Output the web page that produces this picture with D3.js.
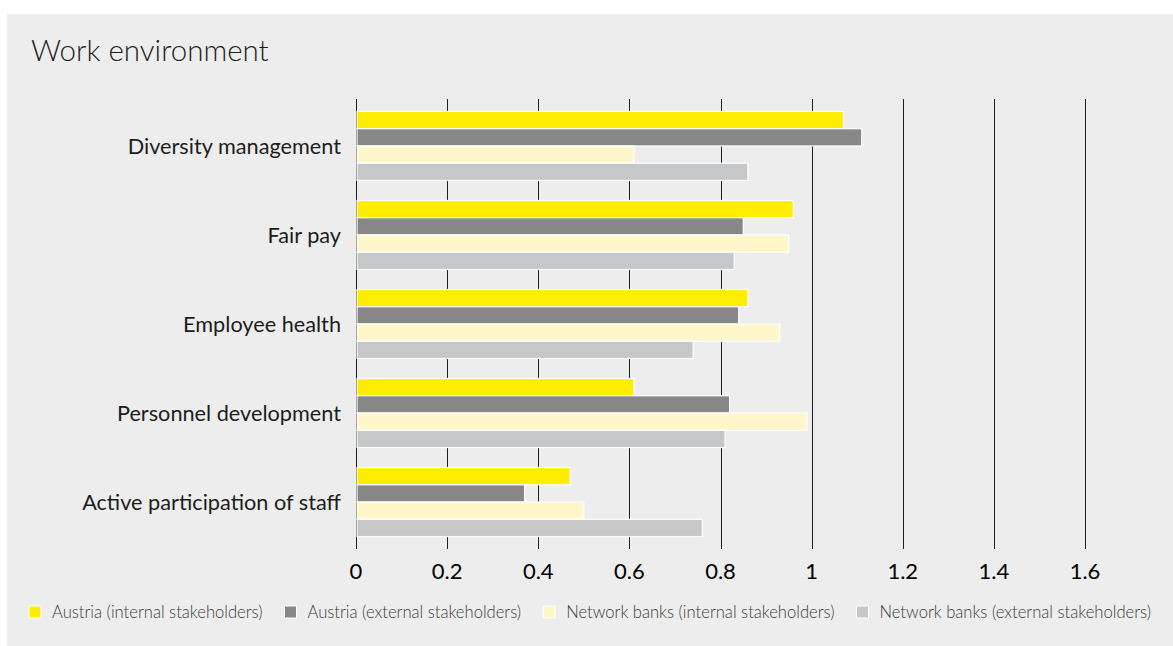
<!DOCTYPE html>
<html>
<head>
<meta charset="utf-8">
<script src="https://cdn.jsdelivr.net/npm/d3@7"></script>
<style>
  html, body { margin: 0; padding: 0; background: #ffffff; }
  svg { display: block; }
</style>
</head>
<body>
<svg id="chart" width="1173" height="646"></svg>
<script>
// Work environment – ratings per topic, four stakeholder groups
const categories = [
  "Diversity management",
  "Fair pay",
  "Employee health",
  "Personnel development",
  "Active participation of staff"
];
const seriesNames = [
  "Austria (internal stakeholders)",
  "Austria (external stakeholders)",
  "Network banks (internal stakeholders)",
  "Network banks (external stakeholders)"
];
const austriaInternal   = [1.07, 0.96, 0.86, 0.61, 0.47];
const austriaExternal   = [1.11, 0.85, 0.84, 0.82, 0.37];
const networkInternal   = [0.61, 0.95, 0.93, 0.99, 0.50];
const networkExternal   = [0.86, 0.83, 0.74, 0.81, 0.76];
const tickValues = [0, 0.2, 0.4, 0.6, 0.8, 1, 1.2, 1.4, 1.6];
const tickLabels = ["0", "0.2", "0.4", "0.6", "0.8", "1", "1.2", "1.4", "1.6"];
const seriesColors = ["#ffed00", "#878787", "#fff7c9", "#c6c7c8"];

const seriesValues = [austriaInternal, austriaExternal, networkInternal, networkExternal];

const svg = d3.select("#chart");
const FONT = "Lato, 'Open Sans', sans-serif";
const INK = "#1d1d1b";

// panel background
svg.append("rect")
  .attr("x", 7).attr("y", 14)
  .attr("width", 1166).attr("height", 632)
  .attr("fill", "#ecedec");

// title
svg.append("text")
  .attr("x", 31).attr("y", 61)
  .attr("font-family", FONT)
  .attr("font-weight", 300)
  .attr("font-size", 29.5)
  .attr("fill", INK)
  .text("Work environment");

const x = d3.scaleLinear().domain([0, 1.6]).range([356, 1085]);
const y = d3.scaleBand().domain(categories).range([99, 549])
  .paddingInner(0.225).paddingOuter(0.14);
const ySub = d3.scaleBand().domain(d3.range(seriesNames.length))
  .range([0, y.bandwidth()]);

// vertical grid lines (drawn under the bars)
svg.append("g").selectAll("line")
  .data(tickValues)
  .join("line")
  .attr("x1", d => Math.round(x(d)) + 0.5)
  .attr("x2", d => Math.round(x(d)) + 0.5)
  .attr("y1", 99).attr("y2", 549)
  .attr("stroke", INK)
  .attr("stroke-width", 1);

// bars
const groups = svg.append("g").selectAll("g")
  .data(categories)
  .join("g")
  .attr("transform", d => `translate(0,${y(d)})`);

groups.selectAll("rect")
  .data((c, ci) => seriesValues.map((vals, si) => ({ si, v: vals[ci] })))
  .join("rect")
  .attr("x", x(0) + 1)
  .attr("y", d => ySub(d.si))
  .attr("width", d => x(d.v) - x(0) - 1)
  .attr("height", ySub.bandwidth())
  .attr("fill", d => seriesColors[d.si])
  .attr("stroke", "#ffffff")
  .attr("stroke-width", 1.2);

// category labels
svg.append("g").selectAll("text")
  .data(categories)
  .join("text")
  .attr("x", 341)
  .attr("y", d => y(d) + y.bandwidth() / 2 + 8)
  .attr("text-anchor", "end")
  .attr("font-family", FONT)
  .attr("font-size", 21.7)
  .attr("fill", INK)
  .text(d => d);

// x tick labels
svg.append("g").selectAll("text")
  .data(tickValues)
  .join("text")
  .attr("x", d => x(d))
  .attr("y", 579)
  .attr("text-anchor", "middle")
  .attr("font-family", FONT)
  .attr("font-size", 22)
  .attr("fill", "#000")
  .text((d, i) => tickLabels[i]);

// legend
const legend = svg.append("g");
let lx = 29;
seriesNames.forEach((name, i) => {
  legend.append("rect")
    .attr("x", lx).attr("y", 606)
    .attr("width", 12).attr("height", 12)
    .attr("fill", seriesColors[i])
    .attr("stroke", "#ffffff")
    .attr("stroke-width", 1);
  const t = legend.append("text")
    .attr("x", lx + 23).attr("y", 617.5)
    .attr("font-family", FONT)
    .attr("font-weight", 300)
    .attr("font-size", 16.6)
    .attr("fill", "#3c3c3b")
    .text(name);
  lx += 23 + t.node().getComputedTextLength() + 22;
});
</script>
</body>
</html>
